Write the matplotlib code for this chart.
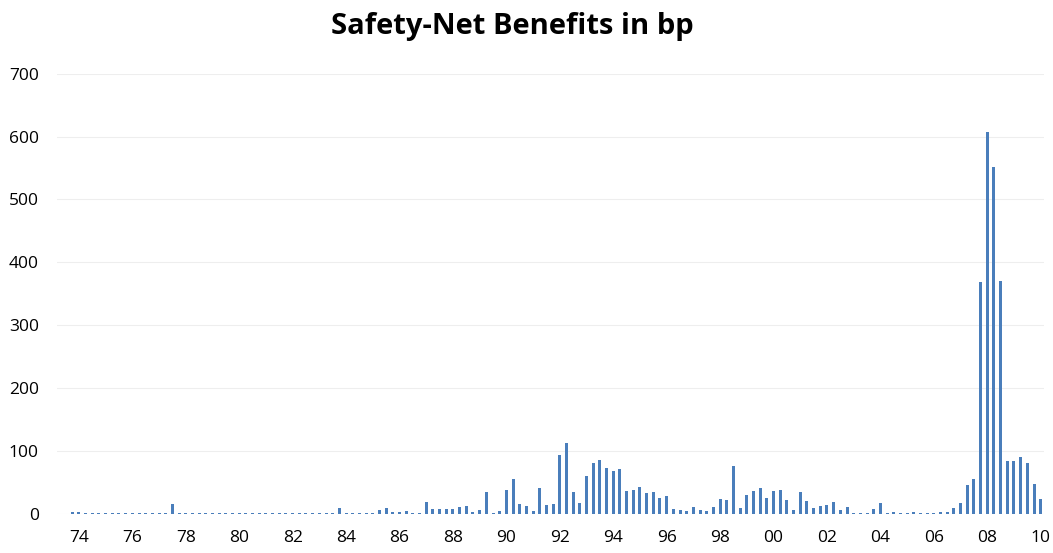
import numpy as np
import matplotlib.pyplot as plt

# Quarterly safety-net benefits (bp), 1973Q4 - 2010Q1
benefits_bp = [
    2, 2, 0.5, 0.5, 0.5, 0.5, 0.5, 1.5,
    0.5, 0.5, 0.5, 0.5, 0.5, 0.5, 0.5, 15,
    0.5, 0.5, 0.5, 0.5, 0.5, 0.5, 0.5, 0.5,
    0.5, 0.5, 0.5, 0.5, 0.5, 0.5, 0.5, 0.5,
    0.5, 0.5, 0.5, 0.5, 0.5, 0.5, 0.5, 0.5,
    9, 0.5, 0.5, 0.5, 0.5, 0.5, 5, 8.5,
    2, 2, 4, 1, 1, 18, 6.5, 6.5,
    6.5, 6.5, 10, 12, 2, 6, 34, 1.5,
    4, 38, 55, 15, 12, 4, 41, 13,
    15, 93, 112, 35, 17.5, 59, 80, 85,
    72, 67, 71, 35.5, 37.5, 42, 33, 34.5,
    25.5, 27.5, 6.5, 5, 4, 10.5, 5, 4,
    11, 23, 22, 76, 8, 30, 35.5, 40,
    25.5, 36.5, 38, 22, 5, 33.5, 20.5, 8.5,
    12, 13, 19, 5, 11, 1, 1, 1,
    6.5, 17.5, 0.5, 3, 1, 1, 3, 0.5,
    0.5, 0.5, 2.5, 2.5, 8, 17.5, 45.5, 55.5,
    368, 608, 551, 371, 84, 83, 90, 80,
    47, 23,
]

year_labels = ['74', '76', '78', '80', '82', '84', '86', '88', '90', '92',
               '94', '96', '98', '00', '02', '04', '06', '08', '10']

plt.rcParams['font.family'] = 'Open Sans'

fig = plt.figure(figsize=(10.53, 5.53), dpi=100)
ax = fig.add_axes([0.054, 0.0714, 0.9375, 0.795])

x = np.arange(len(benefits_bp))
ax.bar(x, benefits_bp, width=0.45, color='#4a7ebb', zorder=2)

# one label every 2 years (8 quarters), starting at 1974Q1
ax.set_xticks(x[1::8])
ax.set_xticklabels(year_labels, fontsize=12.5)
ax.set_xlim(-2.3, 145.5)

ax.set_ylim(0, 700)
ax.set_yticks(range(0, 701, 100))
ax.tick_params(axis='y', labelsize=12.5, length=0, pad=13)
ax.tick_params(axis='x', length=0, pad=12)
ax.grid(axis='y', color='#eeeeee', linewidth=0.8, zorder=0)
for s in ax.spines.values():
    s.set_visible(False)

fig.text(0.487, 0.952, 'Safety-Net Benefits in bp', ha='center', va='center',
         fontsize=21, fontweight='bold')

fig.savefig('out.png', dpi=100)
